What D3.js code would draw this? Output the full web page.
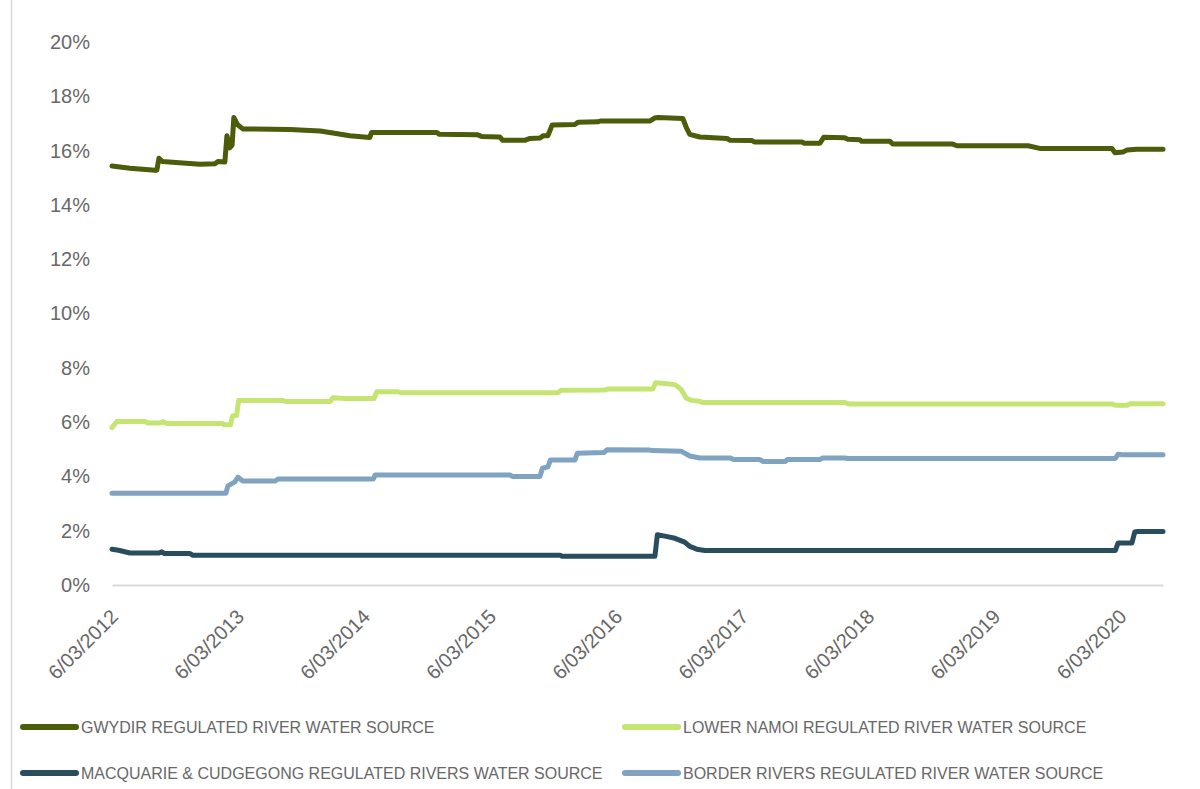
<!DOCTYPE html>
<html>
<head>
<meta charset="utf-8">
<script src="https://cdn.jsdelivr.net/npm/d3@7"></script>
<style>
  html, body { margin: 0; padding: 0; background: #ffffff; }
  svg { display: block; }
  .axis text { font-family: "Liberation Sans", Arial, sans-serif; fill: #686868; }
  .legend text { font-family: "Liberation Sans", Arial, sans-serif; fill: #686868; }
</style>
</head>
<body>
<svg id="chart" width="1200" height="789"></svg>
<script>
// Share of total entitlement, per regulated water source (percent)
const seriesNames = [
  "GWYDIR REGULATED RIVER WATER SOURCE",
  "LOWER NAMOI REGULATED RIVER WATER SOURCE",
  "MACQUARIE & CUDGEGONG REGULATED RIVERS WATER SOURCE",
  "BORDER RIVERS REGULATED RIVER WATER SOURCE"
];

const gwydir = [
  ["2012-03-06", 15.43], ["2012-04-27", 15.35], ["2012-07-09", 15.28], ["2012-07-14", 15.28],
  ["2012-07-20", 15.72], ["2012-07-30", 15.60], ["2012-11-16", 15.50], ["2012-12-30", 15.52],
  ["2013-01-07", 15.60], ["2013-01-27", 15.58], ["2013-02-02", 16.55], ["2013-02-10", 16.10],
  ["2013-02-17", 16.20], ["2013-02-22", 17.22], ["2013-03-05", 16.95], ["2013-03-20", 16.80],
  ["2013-08-04", 16.78], ["2013-10-30", 16.72], ["2013-12-06", 16.65], ["2014-01-24", 16.55],
  ["2014-03-23", 16.48], ["2014-03-28", 16.67], ["2014-10-03", 16.67], ["2014-10-10", 16.60],
  ["2015-01-30", 16.58], ["2015-02-10", 16.52], ["2015-04-04", 16.50], ["2015-04-12", 16.38],
  ["2015-06-15", 16.38], ["2015-06-30", 16.45], ["2015-07-29", 16.46], ["2015-08-07", 16.55],
  ["2015-08-21", 16.55], ["2015-09-02", 16.94], ["2015-11-07", 16.96], ["2015-11-16", 17.04],
  ["2016-01-13", 17.06], ["2016-01-20", 17.09], ["2016-06-11", 17.09], ["2016-06-25", 17.20],
  ["2016-07-05", 17.22], ["2016-09-15", 17.18], ["2016-09-25", 16.85], ["2016-10-05", 16.60],
  ["2016-11-03", 16.50], ["2017-01-21", 16.45], ["2017-01-29", 16.38], ["2017-04-03", 16.37],
  ["2017-04-10", 16.32], ["2017-08-26", 16.32], ["2017-09-02", 16.27], ["2017-10-17", 16.27],
  ["2017-10-28", 16.49], ["2017-12-28", 16.47], ["2018-01-06", 16.42], ["2018-02-10", 16.40],
  ["2018-02-15", 16.34], ["2018-05-08", 16.34], ["2018-05-16", 16.24], ["2018-11-06", 16.24],
  ["2018-11-18", 16.18], ["2019-06-12", 16.18], ["2019-07-16", 16.08], ["2020-02-10", 16.08],
  ["2020-02-19", 15.92], ["2020-03-13", 15.95], ["2020-03-25", 16.02], ["2020-04-22", 16.05],
  ["2020-07-07", 16.05]
];

const lowerNamoi = [
  ["2012-03-06", 5.80], ["2012-03-20", 6.02], ["2012-06-10", 6.02], ["2012-06-18", 5.97],
  ["2012-07-25", 5.97], ["2012-08-01", 6.02], ["2012-08-10", 5.95], ["2013-01-20", 5.95],
  ["2013-01-25", 5.90], ["2013-02-12", 5.90], ["2013-02-18", 6.22], ["2013-03-02", 6.25],
  ["2013-03-08", 6.80], ["2013-07-14", 6.80], ["2013-07-22", 6.76], ["2013-11-28", 6.76],
  ["2013-12-06", 6.90], ["2014-01-10", 6.87], ["2014-04-04", 6.87], ["2014-04-12", 7.12],
  ["2014-06-13", 7.12], ["2014-06-20", 7.08], ["2015-09-18", 7.08], ["2015-09-28", 7.17],
  ["2016-02-02", 7.18], ["2016-02-10", 7.22], ["2016-06-20", 7.22], ["2016-06-28", 7.45],
  ["2016-07-25", 7.42], ["2016-08-23", 7.38], ["2016-09-10", 7.20], ["2016-09-25", 6.88],
  ["2016-10-10", 6.80], ["2016-11-03", 6.77], ["2016-11-10", 6.72], ["2017-12-28", 6.72],
  ["2018-01-10", 6.67], ["2020-02-10", 6.67], ["2020-02-20", 6.62], ["2020-03-25", 6.62],
  ["2020-04-05", 6.68], ["2020-07-07", 6.68]
];

const macquarie = [
  ["2012-03-06", 1.32], ["2012-03-25", 1.28], ["2012-04-27", 1.18], ["2012-07-20", 1.18],
  ["2012-07-28", 1.22], ["2012-08-05", 1.16], ["2012-10-18", 1.16], ["2012-10-25", 1.10],
  ["2015-09-25", 1.10], ["2015-10-01", 1.06], ["2016-06-26", 1.06], ["2016-07-03", 1.85],
  ["2016-07-25", 1.80], ["2016-08-23", 1.72], ["2016-09-20", 1.58], ["2016-10-05", 1.42],
  ["2016-10-25", 1.32], ["2016-11-18", 1.27], ["2020-02-20", 1.27], ["2020-02-28", 1.55],
  ["2020-04-08", 1.55], ["2020-04-16", 1.95], ["2020-04-25", 1.97], ["2020-07-07", 1.97]
];

const borderRivers = [
  ["2012-03-06", 3.38], ["2013-01-30", 3.38], ["2013-02-05", 3.65], ["2013-02-25", 3.80],
  ["2013-03-06", 3.97], ["2013-03-20", 3.83], ["2013-06-21", 3.83], ["2013-06-30", 3.90],
  ["2014-04-02", 3.90], ["2014-04-07", 4.05], ["2015-05-03", 4.05], ["2015-05-10", 4.00],
  ["2015-07-29", 4.00], ["2015-08-05", 4.30], ["2015-08-21", 4.35], ["2015-08-28", 4.60],
  ["2015-11-07", 4.60], ["2015-11-14", 4.85], ["2016-01-30", 4.88], ["2016-02-08", 4.98],
  ["2016-06-11", 4.97], ["2016-06-18", 4.95], ["2016-09-10", 4.93], ["2016-10-05", 4.75],
  ["2016-11-03", 4.68], ["2017-01-29", 4.68], ["2017-02-10", 4.62], ["2017-04-26", 4.62],
  ["2017-05-05", 4.55], ["2017-07-08", 4.55], ["2017-07-15", 4.62], ["2017-10-17", 4.62],
  ["2017-10-25", 4.68], ["2017-12-28", 4.68], ["2018-01-06", 4.66], ["2020-02-20", 4.66],
  ["2020-02-28", 4.82], ["2020-03-10", 4.80], ["2020-07-07", 4.80]
];

const xTickLabels = [
  "6/03/2012", "6/03/2013", "6/03/2014", "6/03/2015", "6/03/2016",
  "6/03/2017", "6/03/2018", "6/03/2019", "6/03/2020"
];
const yTickValues = [0, 2, 4, 6, 8, 10, 12, 14, 16, 18, 20];

// ---- drawing ----
const seriesData = [gwydir, lowerNamoi, macquarie, borderRivers];
const seriesColors = ["#4b5c0b", "#c4e572", "#294d5d", "#7fa3c1"];

const parseIso = d3.timeParse("%Y-%m-%d");
const parseLabel = d3.timeParse("%d/%m/%Y");
const formatLabel = d3.timeFormat("%-d/%m/%Y");

const svg = d3.select("#chart");

// chart frame edge on the left
svg.append("line")
  .attr("x1", 11.5).attr("x2", 11.5)
  .attr("y1", 0).attr("y2", 789)
  .attr("stroke", "#d9d9d9").attr("stroke-width", 1.5);

const x = d3.scaleTime()
  .domain([parseIso("2012-03-06"), parseIso("2020-07-07")])
  .range([112, 1163]);

const y = d3.scaleLinear()
  .domain([0, 20])
  .range([585, 42]);

// value axis
const yAxis = svg.append("g")
  .attr("class", "axis")
  .attr("transform", "translate(112,0)")
  .call(d3.axisLeft(y)
    .tickValues(yTickValues)
    .tickSize(0)
    .tickPadding(22)
    .tickFormat(d => d + "%"));
yAxis.select(".domain").remove();
yAxis.selectAll("text").style("font-size", "20px");

// date axis
const xAxis = svg.append("g")
  .attr("class", "axis")
  .attr("transform", "translate(0,585)")
  .call(d3.axisBottom(x)
    .tickValues(xTickLabels.map(parseLabel))
    .tickSize(0)
    .tickSizeOuter(0)
    .tickFormat(formatLabel));
xAxis.select(".domain")
  .attr("stroke", "#d9d9d9")
  .attr("stroke-width", 2);
xAxis.selectAll(".tick text")
  .style("font-size", "20px")
  .attr("text-anchor", "end")
  .attr("y", 0)
  .attr("dy", "0.35em")
  .attr("transform", "translate(2,28) rotate(-45)");

// series lines
const line = d3.line()
  .x(d => x(parseIso(d[0])))
  .y(d => y(d[1]))
  .curve(d3.curveLinear);

svg.append("g")
  .selectAll("path")
  .data(seriesData)
  .join("path")
  .attr("d", line)
  .attr("fill", "none")
  .attr("stroke", (d, i) => seriesColors[i])
  .attr("stroke-width", 5)
  .attr("stroke-linejoin", "round")
  .attr("stroke-linecap", "round");

// legend, two columns by two rows
const legendPos = [
  { lx: 21, ly: 727 }, { lx: 623, ly: 727 },
  { lx: 21, ly: 773 }, { lx: 623, ly: 773 }
];
const legend = svg.append("g").attr("class", "legend");
const items = legend.selectAll("g")
  .data(seriesNames)
  .join("g")
  .attr("transform", (d, i) => `translate(${legendPos[i].lx},${legendPos[i].ly})`);
items.append("line")
  .attr("x1", 2).attr("x2", 55)
  .attr("y1", 0).attr("y2", 0)
  .attr("stroke", (d, i) => seriesColors[i])
  .attr("stroke-width", 6)
  .attr("stroke-linecap", "round");
items.append("text")
  .attr("x", 60)
  .attr("y", 0)
  .attr("dy", "0.36em")
  .style("font-size", "16px")
  .text(d => d);
</script>
</body>
</html>
